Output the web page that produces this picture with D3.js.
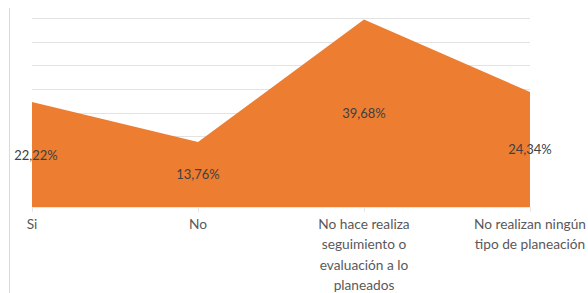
<!DOCTYPE html>
<meta charset="utf-8">
<style>
  body { margin: 0; background: #fff; }
  svg { display: block; }
  .cat { font-family: Lato, "Open Sans", sans-serif; font-size: 13.7px; fill: #595959; }
  .val { font-family: Lato, "Open Sans", sans-serif; font-size: 13px; fill: #404040; }
</style>
<body>
<script src="https://cdnjs.cloudflare.com/ajax/libs/d3/7.8.5/d3.min.js"></script>
<script>
// data
var categories = ["Si", "No", "No hace realiza\nseguimiento o\nevaluación a lo\nplaneados", "No realizan ningún\ntipo de planeación"];
var values = [22.22, 13.76, 39.68, 24.34];
var valueLabels = ["22,22%", "13,76%", "39,68%", "24,34%"];
var gridTicks = [5, 10, 15, 20, 25, 30, 35, 40];

var width = 588, height = 293;

var svg = d3.select("body").append("svg")
    .attr("width", width)
    .attr("height", height);

var x = d3.scalePoint()
    .domain(categories)
    .range([32, 530]);

var y = d3.scaleLinear()
    .domain([0, 40])
    .range([207, 18]);

// frame line on the left
svg.append("line")
    .attr("x1", 9.5).attr("x2", 9.5)
    .attr("y1", 8).attr("y2", height)
    .style("stroke", "#d9d9d9");

// gridlines
svg.append("g")
  .selectAll("line")
  .data(gridTicks)
  .enter().append("line")
    .attr("x1", 32).attr("x2", 530)
    .attr("y1", function(d) { return Math.round(y(d)) + 0.5; })
    .attr("y2", function(d) { return Math.round(y(d)) + 0.5; })
    .style("stroke", "#e3e3e3");

// area
var area = d3.area()
    .x(function(d, i) { return x(categories[i]); })
    .y0(y(0))
    .y1(function(d) { return y(d); });

svg.append("path")
    .datum(values)
    .attr("d", area)
    .style("fill", "#ed7d31");

// axis line + ticks
svg.append("line")
    .attr("x1", 32).attr("x2", 530)
    .attr("y1", y(0) + 0.5).attr("y2", y(0) + 0.5)
    .style("stroke", "#e6e6e6");

svg.append("g")
  .selectAll("line")
  .data(categories)
  .enter().append("line")
    .attr("x1", function(d) { return x(d) + 0.5; })
    .attr("x2", function(d) { return x(d) + 0.5; })
    .attr("y1", y(0)).attr("y2", y(0) + 5)
    .style("stroke", "#e6e6e6");

// category labels
var cat = svg.append("g")
  .selectAll("text")
  .data(categories)
  .enter().append("text")
    .attr("class", "cat")
    .attr("text-anchor", "middle")
    .attr("x", function(d) { return x(d); })
    .attr("y", 229);

cat.selectAll("tspan")
  .data(function(d) { return d.split("\n").map(function(s) { return { s: s, c: d }; }); })
  .enter().append("tspan")
    .attr("x", function(d) { return x(d.c); })
    .attr("dy", function(d, i) { return i ? 20.3 : 0; })
    .text(function(d) { return d.s; });

// value labels, centred at half height
svg.append("g")
  .selectAll("text")
  .data(values)
  .enter().append("text")
    .attr("class", "val")
    .attr("text-anchor", "middle")
    .attr("x", function(d, i) { return x(categories[i]) + (i == 0 ? 4 : 0); })
    .attr("y", function(d) { return y(d / 2) + 5; })
    .text(function(d, i) { return valueLabels[i]; });
</script>
</body>
